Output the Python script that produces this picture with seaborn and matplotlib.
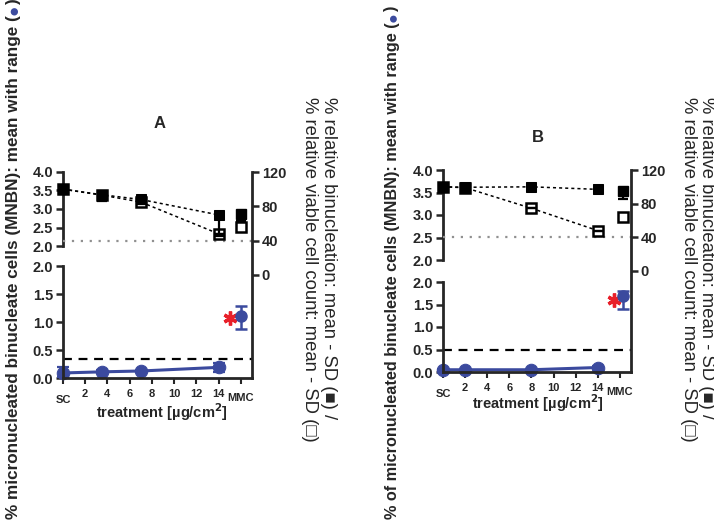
import matplotlib
matplotlib.use('Agg')
import matplotlib.pyplot as plt
import seaborn as sns
import pandas as pd

sns.set_style('ticks')
plt.rcParams['font.family'] = ['Liberation Sans Narrow', 'Liberation Sans', 'DejaVu Sans']
plt.rcParams['font.weight'] = 'bold'

BLUE = '#3b4a9e'

# ---- panel A data ----
a_conc = [0, 3.5, 7, 14]
a_mn = [0.09, 0.11, 0.125, 0.19]
a_mn_lo = [0.02, 0.09, 0.10, 0.11]
a_mn_hi = [0.19, 0.14, 0.15, 0.27]
a_mmc_x = 16
a_mmc_mn = [1.11, 0.88, 1.29]          # mean, low, high
a_binuc = [100, 93.5, 88, 70]
a_binuc_sd = [0, 7, 3, 22]
a_viable = [100, 93, 85, 48]
a_viable_sd = [0, 2, 2, 3]
a_mmc_binuc = [71.5, 9]                # mean, SD
a_mmc_viable = [56, 0]
a_ref = 0.34
a_star = [15.0, 1.07]

# ---- panel B data ----
b_conc = [0, 2, 8, 14]
b_mn = [0.05, 0.05, 0.05, 0.10]
b_mn_lo = [0.03, 0.03, 0.03, 0.07]
b_mn_hi = [0.07, 0.07, 0.07, 0.13]
b_mmc_x = 16.3
b_mmc_mn = [1.69, 1.39, 1.81]
b_binuc = [100, 99.5, 100, 97]
b_binuc_sd = [0, 1, 0, 4]
b_viable = [100, 99, 74.5, 48]
b_viable_sd = [0, 0, 0, 1]
b_mmc_binuc = [95, 9]
b_mmc_viable = [64.5, 5]
b_ref = 0.5
b_star = [15.5, 1.6]

xticks = [0, 2, 4, 6, 8, 10, 12, 14, 16]
xticklabels = ['SC', '2', '4', '6', '8', '10', '12', '14', 'MMC']

W, H = 714, 520
fig = plt.figure(figsize=(W / 100, H / 100), dpi=100)


def rect(l, r, y0, y1):
    return [l / W, (H - y0) / H, (r - l) / W, (y0 - y1) / H]


def style_ticks(ax, axis):
    ax.tick_params(axis=axis, direction='out', length=5, width=1.8, labelsize=10.5, pad=2)


def panel(geo, conc, mn, lo, hi, mmc_x, mmc, binuc, binuc_sd, viable, viable_sd,
          mmc_binuc, mmc_viable, ref, star):
    l, r, by0, by1, ty0, ty1 = geo

    # lower segment: MNBN frequency
    axb = fig.add_axes(rect(l, r, by0, by1))
    df = pd.DataFrame({'conc': conc, 'mn': mn})
    sns.lineplot(data=df, x='conc', y='mn', ax=axb, color=BLUE, lw=2.2,
                 marker='o', markersize=9, markeredgecolor=BLUE)
    axb.errorbar(conc, mn, yerr=[[m - a for m, a in zip(mn, lo)], [b - m for m, b in zip(mn, hi)]],
                 fmt='none', ecolor=BLUE, elinewidth=1.6, capsize=4, capthick=1.6)
    axb.errorbar([mmc_x], [mmc[0]], yerr=[[mmc[0] - mmc[1]], [mmc[2] - mmc[0]]],
                 fmt='o', color=BLUE, ms=8, elinewidth=1.8, capsize=4, capthick=1.8)
    axb.axhline(ref, color='black', ls=(0, (4, 3)), lw=1.6)
    axb.plot([star[0]], [star[1]], marker=(6, 2, 0), ms=10, mew=2.4, color='#e8202a', ls='none')
    for art in axb.lines + axb.collections:
        art.set_clip_on(False)
    axb.set_xlim(0, 17)
    axb.set_ylim(0, 2)
    axb.set_yticks([0, 0.5, 1.0, 1.5, 2.0])
    axb.set_yticklabels(['0.0', '0.5', '1.0', '1.5', '2.0'])
    axb.set_xticks(xticks)
    axb.set_xticklabels(xticklabels)
    axb.set_xlabel('')
    axb.set_ylabel('')
    style_ticks(axb, 'y')
    axb.tick_params(axis='x', direction='out', length=4, width=1.5, labelsize=8, pad=4)
    ticks = axb.xaxis.get_major_ticks()
    ticks[0].set_pad(8)
    ticks[-1].set_pad(7)
    for s in ['top', 'right']:
        axb.spines[s].set_visible(False)
    for s in ['left', 'bottom']:
        axb.spines[s].set_linewidth(2)
    axb.patch.set_visible(False)

    # upper segment: left scale 2-4
    axt = fig.add_axes(rect(l, r, ty0, ty1))
    axt.set_xlim(0, 17)
    axt.set_ylim(2, 4)
    axt.set_yticks([2.0, 2.5, 3.0, 3.5, 4.0])
    axt.set_yticklabels(['2.0', '2.5', '3.0', '3.5', '4.0'])
    axt.set_xticks([])
    style_ticks(axt, 'y')
    for s in ['top', 'right', 'bottom']:
        axt.spines[s].set_visible(False)
    axt.spines['left'].set_linewidth(2)
    axt.patch.set_visible(False)

    # right scale: relative binucleation / viable cell count
    axr = fig.add_axes(rect(l, r, by0, ty1))
    axr.set_xlim(0, 17)
    axr.set_ylim(-120, 120)
    axr.axhline(40, xmin=0, xmax=1, color='#909090', ls=(0, (1, 3)), lw=1.6)
    dfr = pd.DataFrame({'conc': conc, 'binuc': binuc, 'viable': viable})
    sns.lineplot(data=dfr, x='conc', y='viable', ax=axr, color='black', lw=1.1,
                 ls=(0, (2, 2)), marker='s', markersize=7, markerfacecolor='white',
                 markeredgecolor='black', markeredgewidth=1.8)
    sns.lineplot(data=dfr, x='conc', y='binuc', ax=axr, color='black', lw=1.1,
                 ls=(0, (2, 2)), marker='s', markersize=7, markerfacecolor='black',
                 markeredgecolor='black')
    axr.errorbar(conc, binuc, yerr=[binuc_sd, [0] * len(conc)], fmt='none',
                 ecolor='black', elinewidth=1.6, capsize=3.5, capthick=1.6)
    axr.errorbar(conc, viable, yerr=[viable_sd, [0] * len(conc)], fmt='none',
                 ecolor='black', elinewidth=1.6, capsize=3.5, capthick=1.6)
    axr.errorbar([mmc_x], [mmc_binuc[0]], yerr=[[mmc_binuc[1]], [0]], fmt='s', color='black',
                 ms=7, elinewidth=1.6, capsize=3.5, capthick=1.6)
    axr.errorbar([mmc_x], [mmc_viable[0]], yerr=[[mmc_viable[1]], [0]], fmt='s', color='black',
                 mfc='white', mec='black', mew=1.8, ms=7, elinewidth=1.6, capsize=3.5, capthick=1.6)
    for art in axr.lines + axr.collections:
        art.set_clip_on(False)
    axr.set_xticks([])
    axr.set_xlabel('')
    axr.set_ylabel('')
    axr.yaxis.tick_right()
    axr.set_yticks([0, 40, 80, 120])
    axr.set_yticklabels(['0', '40', '80', '120'])
    style_ticks(axr, 'y')
    for s in ['top', 'left', 'bottom']:
        axr.spines[s].set_visible(False)
    axr.spines['right'].set_linewidth(2)
    axr.patch.set_visible(False)


panel((63, 252, 378, 266, 246, 172), a_conc, a_mn, a_mn_lo, a_mn_hi, a_mmc_x, a_mmc_mn,
      a_binuc, a_binuc_sd, a_viable, a_viable_sd, a_mmc_binuc, a_mmc_viable, a_ref, a_star)
panel((443, 631, 372, 282, 260, 170), b_conc, b_mn, b_mn_lo, b_mn_hi, b_mmc_x, b_mmc_mn,
      b_binuc, b_binuc_sd, b_viable, b_viable_sd, b_mmc_binuc, b_mmc_viable, b_ref, b_star)

LAB = ['Liberation Sans', 'DejaVu Sans']


def fx(x):
    return x / W


def fy(y):
    return 1 - y / H


# panel titles and x labels
fig.text(fx(160), fy(123), 'A', ha='center', va='center', fontsize=12, family=LAB)
fig.text(fx(538), fy(137), 'B', ha='center', va='center', fontsize=12, family=LAB)
fig.text(fx(162), fy(412), 'treatment [µg/cm$^\\mathbf{2}$]', ha='center', va='center', fontsize=10.5, family=LAB)
fig.text(fx(538), fy(403), 'treatment [µg/cm$^\\mathbf{2}$]', ha='center', va='center', fontsize=10.5, family=LAB)

# left labels with blue dot symbol
renderer = fig.canvas.get_renderer()
inv = fig.transFigure.inverted()
for x, fs, txt in [(14, 12.3, '% micronucleated binucleate cells (MNBN): mean with range ('),
                   (392, 11.7, '% of micronucleated binucleate cells (MNBN): mean with range (')]:
    t = fig.text(fx(x), fy(519), txt, rotation=90, ha='center', va='bottom', fontsize=fs, family=LAB)
    top = inv.transform(t.get_window_extent(renderer))[1][1]
    d = fig.text(fx(x), top, '●', rotation=90, ha='center', va='bottom', fontsize=fs,
                 family=LAB, color=BLUE)
    top2 = inv.transform(d.get_window_extent(renderer))[1][1]
    fig.text(fx(x), top2, ')', rotation=90, ha='center', va='bottom', fontsize=fs, family=LAB)

# right labels
for x1, x2 in [(328, 309), (706, 688)]:
    fig.text(fx(x1), fy(97), '% relative binucleation: mean - SD (■) /', rotation=-90,
             ha='center', va='top', fontsize=13.3, family=LAB, weight='normal')
    fig.text(fx(x2), fy(97), '% relative viable cell count: mean - SD (□)', rotation=-90,
             ha='center', va='top', fontsize=13.3, family=LAB, weight='normal')

fig.savefig('out.png', dpi=100)
